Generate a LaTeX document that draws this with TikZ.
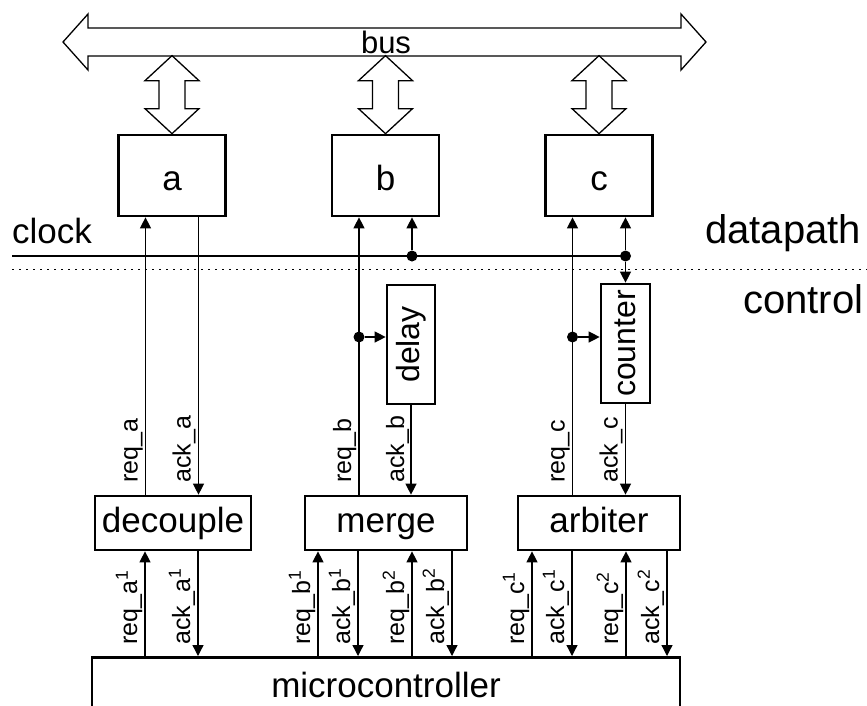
\documentclass[tikz,border=0pt]{standalone}
\usepackage{fontspec}
\setmainfont{Liberation Sans}
\usetikzlibrary{arrows.meta,calc}

\begin{document}
\begin{tikzpicture}[x=1pt,y=-1pt,
  blk/.style={draw,line width=2.7pt,inner sep=0pt,font=\fontsize{35}{40}\selectfont},
  unit/.style={blk,minimum width=107,minimum height=81,text height=29pt,text depth=0pt},
  ctl/.style={blk,minimum height=54,text height=25pt,text depth=7pt},
  sig/.style={line width=1.3pt,-{Triangle[length=11pt,width=11pt]}},
  fat/.style={line width=1.3pt,line join=miter},
  lbl/.style={rotate=90,anchor=base west,inner sep=0pt,font=\fontsize{25}{30}\selectfont},
  dot/.style={circle,fill,inner sep=0pt,minimum size=11pt},
  txt/.style={anchor=base west,inner sep=0pt,font=\fontsize{#1}{#1}\selectfont}]
  \clip (0,0) rectangle (867,705);

  % the bus
  \draw[fat] (63,42) -- (88,14) -- (88,28) -- (681,28) -- (681,14) -- (706,42)
    -- (681,70) -- (681,56) -- (88,56) -- (88,70) -- cycle;
  \node[txt=31,anchor=base] (bus) at (386,53) {bus};

  \node[unit] (a) at (172,175.5) {a};
  \node[unit] (b) at (385.5,175.5) {b};
  \node[unit] (c) at (599,175.5) {c};
  \foreach \n in {a,b,c}
    \draw[fat] (\n.north) -- ++(-27,-25) -- ++(14,0) -- ++(0,-28) -- ++(-14,0)
      -- ++(27,-25) -- ++(27,25) -- ++(-14,0) -- ++(0,28) -- ++(14,0) -- cycle;

  \node[txt=35] (clock) at (12,243) {clock};
  \node[txt=40] (datapath) at (705,243) {datapath};
  \node[txt=40] (control) at (743,313) {control};
  \coordinate (clk) at (12,256);
  \coordinate (tap) at (0,337);
  \draw[line width=1pt,dash pattern=on 2pt off 5pt] (12,269) -- (867,269);

  \node[ctl,minimum width=156] (decouple) at (173,523) {decouple};
  \node[ctl,minimum width=162] (merge) at (386,523) {merge};
  \node[ctl,minimum width=162] (arbiter) at (599,523) {arbiter};
  \node[blk,rotate=90,minimum width=119,minimum height=48,font=\fontsize{32}{36}\selectfont]
    (delay) at (411,344.5) {delay};
  \node[blk,rotate=90,minimum width=119,minimum height=49,font=\fontsize{32}{36}\selectfont]
    (counter) at (625.5,343.5) {counter};
  \node[blk,anchor=north,minimum width=588,minimum height=55,text height=25pt,
    text depth=0pt] (micro) at (386,656) {microcontroller};

  \coordinate (ra) at ([xshift=-26.5pt]a.south);
  \coordinate (ka) at ([xshift=26.5pt]a.south);
  \coordinate (rb) at ([xshift=-26.5pt]b.south);
  \coordinate (kb) at ([xshift=26.5pt]b.south);
  \coordinate (rc) at ([xshift=-26.5pt]c.south);
  \coordinate (kc) at ([xshift=26.5pt]c.south);

  \node[dot] (cb) at (kb |- clk) {};
  \node[dot] (cc) at (kc |- clk) {};
  \draw[line width=1.8pt] (clk) -- (cc.center);
  \draw[sig] (cb) -- (kb);
  \draw[sig] (cc) -- (kc);
  \draw[sig] (cc) -- (counter.east);

  \draw[sig] (ra |- decouple.north) -- (ra);
  \draw[sig] (ka) -- (ka |- decouple.north);
  \draw[sig] (rb |- merge.north) -- (rb);
  \node[dot] (db) at (rb |- tap) {};
  \draw[sig] (db) -- (db -| delay.north);
  \draw[sig] (delay.west) -- (delay.west |- merge.north);
  \draw[sig] (rc |- arbiter.north) -- (rc);
  \node[dot] (dc) at (rc |- tap) {};
  \draw[sig] (dc) -- (dc -| counter.north);
  \draw[sig] (counter.west) -- (counter.west |- arbiter.north);

  \foreach \p/\t in {ra/req\_a,ka/ack\_a,rb/req\_b,kb/ack\_b,rc/req\_c,kc/ack\_c}
    \node[lbl] (l\p) at ($(\p |- decouple.north)+(-8,-12)$) {\t};

  \foreach \x/\n/\l/\s in {145/decouple/a/1,318/merge/b/1,412/merge/b/2,
      532/arbiter/c/1,626/arbiter/c/2} {
    \coordinate (q\l\s) at (\x,0);
    \draw[sig] (q\l\s |- micro.north) -- (q\l\s |- \n.south);
    \node[lbl] (lq\l\s) at ($(q\l\s |- micro.north)+(-8,-11)$)
      {req\_\l\textsuperscript{\s}};
  }
  \foreach \x/\n/\l/\s in {198/decouple/a/1,358/merge/b/1,452/merge/b/2,
      572/arbiter/c/1,667/arbiter/c/2} {
    \coordinate (k\l\s) at (\x,0);
    \draw[sig] (k\l\s |- \n.south) -- (k\l\s |- micro.north);
    \node[lbl] (lk\l\s) at ($(k\l\s |- micro.north)+(-8,-11)$)
      {ack\_\l\textsuperscript{\s}};
  }
\end{tikzpicture}
\end{document}
